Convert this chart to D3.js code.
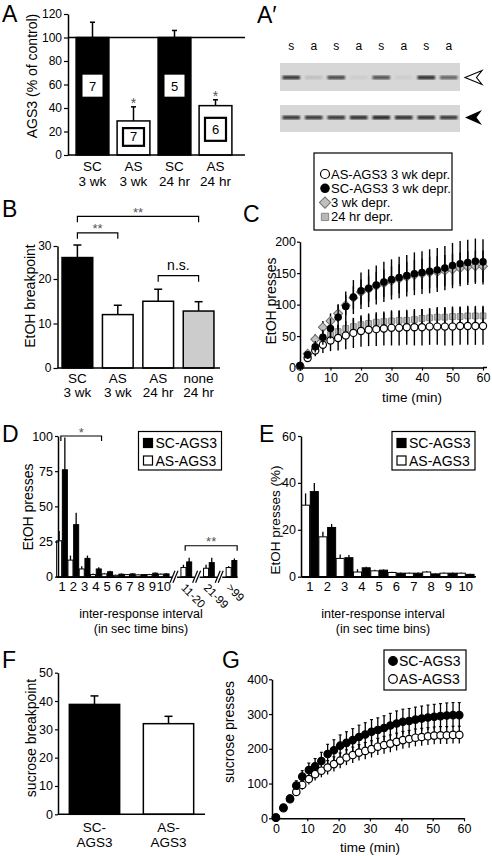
<!DOCTYPE html>
<html>
<head>
<meta charset="utf-8">
<script src="https://cdn.jsdelivr.net/npm/d3@7/dist/d3.min.js"></script>
<style>
html,body{margin:0;padding:0;background:#fff;}
svg{display:block;}
text{font-family:"Liberation Sans",Arial,Helvetica,sans-serif;fill:#000;}
</style>
</head>
<body>
<svg id="fig" width="492" height="856"></svg>
<script>
// ================= DATA =================
// Panel A
const aCategories = [["SC","3 wk"],["AS","3 wk"],["SC","24 hr"],["AS","24 hr"]];
const aValues = [100, 29, 100, 42];
const aErrors = [13, 12, 6, 5];
const aN = ["7","7","5","6"];
const aSignif = ["","*","","*"];
const aTicks = [0,20,40,60,80,100,120];
// Panel A'
const blotLanes = ["s","a","s","a","s","a","s","a"];
const blotTopBand = [0.85,0.12,0.75,0.05,0.7,0.05,0.9,0.6];
const blotBottomBand = [0.85,0.85,0.85,0.9,0.95,0.9,0.9,0.85];
// Panel B
const bCategories = [["SC","3 wk"],["AS","3 wk"],["AS","24 hr"],["none","24 hr"]];
const bValues = [26.5, 12, 15, 12.8];
const bErrors = [3.8, 2.1, 2.7, 2.1];
const bTicks = [0,10,20,30];
const bBrackets = [{from:0,to:1,level:34,label:"**"},{from:0,to:3,level:39,label:"**"},{from:2,to:3,level:21,label:"n.s."}];
// Panel C
const cTime = [0,2.5,5,7.5,10,12.5,15,17.5,20,22.5,25,27.5,30,32.5,35,37.5,40,42.5,45,47.5,50,52.5,55,57.5,60];
const cAS3wk = [2,15,27,36,43,47,51,55,58,60,61,62,63,63,64,64,64,65,65,65,65,66,66,66,66];
const cAS3wkErr = [1,5,9,13,17,20,22,24,25,26,27,27,28,28,28,29,29,29,29,30,30,30,30,30,30];
const cSC3wk = [3,20,33,48,62,80,97,112,122,126,131,136,140,143,146,149,151,153,155,158,162,165,167,169,168];
const cSC3wkErr = [2,6,9,12,16,20,24,27,29,30,31,32,32,33,33,34,34,35,35,35,36,36,36,36,36];
const cDepr3wk = [2,22,45,64,74,86,99,111,120,125,130,134,138,141,144,147,149,151,152,154,156,158,160,161,161];
const cDepr3wkErr = [1,5,8,10,12,14,16,18,20,21,22,22,23,23,24,24,24,25,25,25,25,25,25,25,25];
const cDepr24hr = [2,18,32,44,52,57,62,65,68,70,72,73,74,75,75,76,78,79,80,80,81,81,82,82,82];
const cDepr24hrErr = [1,4,6,8,10,11,12,13,13,14,14,14,15,15,15,15,15,15,16,16,16,16,16,16,16];
const cLegendLabels = ["AS-AGS3 3 wk depr.","SC-AGS3 3 wk depr.","3 wk depr.","24 hr depr."];
const cXTicks = [0,10,20,30,40,50,60];
const cYTicks = [0,50,100,150,200];
// Panel D
const dBins = ["1","2","3","4","5","6","7","8","9","10","11-20","21-99",">99"];
const dSC = [76,37,13,5.5,3.5,1.8,2,1.5,2.5,2,10.5,10,11.5];
const dSCErr = [23,8.5,2,1.2,0.8,0.5,0.5,0.5,0.5,0.5,3,3.5,1.5];
const dAS = [25.5,11.8,5.5,1.5,2,1,1.5,1.3,1.5,1.8,6.5,6,6.5];
const dASErr = [7,3.2,2,0.7,0.5,0.4,0.5,0.4,0.5,0.5,2,2.5,1];
const dTicks = [0,25,50,75,100];
const dBrackets = [{from:"1",to:"4",level:100,label:"*"},{from:"11-20",to:">99",level:22,label:"**"}];
// Panel E
const eBins = ["1","2","3","4","5","6","7","8","9","10"];
const eSC = [36.3,21,8.1,3.8,2.8,1.5,1.5,1.2,1.5,1];
const eSCErr = [3.7,1.5,1.2,0.4,0.3,0.3,0.3,0.3,0.3,0.3];
const eAS = [30.5,17,7.8,2,2.5,1.8,1.5,2,1.5,1.5];
const eASErr = [5,2.2,1.7,1.2,0.5,0.3,0.3,0.3,0.3,0.3];
const eTicks = [0,20,40,60];
const groupLegend = ["SC-AGS3","AS-AGS3"];
// Panel F
const fCategories = [["SC-","AGS3"],["AS-","AGS3"]];
const fValues = [38.8, 32];
const fErrors = [3, 2.6];
const fTicks = [0,10,20,30,40,50];
// Panel G
const gTime = [0,2.4,4.5,6.5,8.4,10.5,12.5,14.5,16.5,18.5,20.5,22.5,24.5,26.5,28.5,30.5,32.5,34.5,36.5,38.5,40.5,42.5,44.5,46.5,48.5,50.5,52.5,54.5,56.5,58.5];
const gSC = [2,31,57,94,120,139,150,165,185,196,209,217,225,234,241,249,254,260,267,273,278,280,284,287,290,292,294,296,297,297];
const gSCErr = [2,6,10,14,17,20,22,25,28,30,31,32,33,34,34,35,35,35,35,36,36,36,36,36,36,36,36,36,36,36];
const gAS = [2,29,55,76,96,113,127,137,146,156,166,175,182,189,194,199,206,211,215,220,225,228,232,234,236,238,239,239,240,240];
const gASErr = [2,6,9,12,14,16,18,19,20,21,22,22,23,23,24,24,24,25,25,25,25,25,25,25,25,25,25,25,25,25];
const gXTicks = [0,10,20,30,40,50,60];
const gYTicks = [0,100,200,300,400];

// ================= DRAW =================
const FONT = '"Liberation Sans", Arial, Helvetica, sans-serif';
const svg = d3.select("#fig");

function styleAxis(g, fs){
  g.attr("font-family", FONT).attr("font-size", fs || 12);
  g.select(".domain").attr("stroke","#000").attr("stroke-width",1.5);
  g.selectAll(".tick line").attr("stroke","#000").attr("stroke-width",1.2);
  g.selectAll(".tick text").attr("fill","#000");
  return g;
}
function panelLetter(t, x, y){
  svg.append("text").attr("x",x).attr("y",y).attr("font-size",23).text(t);
}
function yTitle(t, x, y, fs){
  svg.append("text").attr("transform",`translate(${x},${y}) rotate(-90)`)
    .attr("text-anchor","middle").attr("font-size",fs||14).text(t);
}
function vline(g, x, y1, y2, w){
  g.append("line").attr("x1",x).attr("x2",x).attr("y1",y1).attr("y2",y2)
    .attr("stroke","#000").attr("stroke-width",w||1.5);
}
function hline(g, x1, x2, y, w, col){
  g.append("line").attr("x1",x1).attr("x2",x2).attr("y1",y).attr("y2",y)
    .attr("stroke",col||"#000").attr("stroke-width",w||1.5);
}
function errBar(g, x, yTop, yBase, cap, w){
  vline(g, x, yBase, yTop, w||1.5);
  if (cap) hline(g, x-cap/2, x+cap/2, yTop, w||1.5);
}

// ---------- Panel A ----------
{
  const g = svg.append("g");
  const y = d3.scaleLinear().domain([0,120]).range([155,14]);
  const x = d3.scaleBand().domain(d3.range(aValues.length)).range([72,236]).paddingInner(0.2).paddingOuter(0.1);
  const fills = ["#000","#fff","#000","#fff"];
  aValues.forEach((v,i)=>{
    const bx = x(i), bw = x.bandwidth();
    errBar(g, bx+bw/2, y(v+aErrors[i]), y(v), 5);
    g.append("rect").attr("x",bx).attr("y",y(v)).attr("width",bw).attr("height",y(0)-y(v))
      .attr("fill",fills[i]).attr("stroke","#000").attr("stroke-width",1.5);
    if (fills[i]==="#000"){
      g.append("rect").attr("x",bx+bw/2-10).attr("y",y(59)-11).attr("width",20).attr("height",22).attr("fill","#fff");
      g.append("text").attr("x",bx+bw/2).attr("y",y(59)+5).attr("text-anchor","middle").attr("font-size",13).text(aN[i]);
    } else {
      const h = Math.min(23, (y(0)-y(v))*0.52);
      const cy = (y(0)+y(v))/2 - 1;
      g.append("rect").attr("x",bx+bw/2-10.5).attr("y",cy-h/2).attr("width",21).attr("height",h)
        .attr("fill","#fff").attr("stroke","#000").attr("stroke-width",2.2);
      g.append("text").attr("x",bx+bw/2).attr("y",cy+4.5).attr("text-anchor","middle").attr("font-size",13).text(aN[i]);
    }
    if (aSignif[i]) g.append("text").attr("x",bx+bw/2).attr("y",y(v+aErrors[i])+1).attr("text-anchor","middle")
      .attr("font-size",14).style("fill","#555").text(aSignif[i]);
    g.append("text").attr("x",bx+bw/2).attr("y",171).attr("text-anchor","middle").attr("font-size",13.5).text(aCategories[i][0]);
    g.append("text").attr("x",bx+bw/2).attr("y",185.5).attr("text-anchor","middle").attr("font-size",13.5).text(aCategories[i][1]);
  });
  hline(g, 68, 245, y(100), 1.3);
  hline(g, 68, 245, y(0), 1.5);
  styleAxis(g.append("g").attr("transform","translate(68,0)")
    .call(d3.axisLeft(y).tickValues(aTicks).tickSize(4).tickSizeOuter(0).tickPadding(2)));
  yTitle("AGS3 (% of control)", 37, 76);
  panelLetter("A", 2, 22);
}

// ---------- Panel A' ----------
{
  const g = svg.append("g");
  const defs = svg.append("defs");
  defs.append("filter").attr("id","blur").append("feGaussianBlur").attr("stdDeviation",0.9);
  const x = d3.scaleBand().domain(d3.range(blotLanes.length)).range([280,460]);
  blotLanes.forEach((l,i)=>{
    g.append("text").attr("x",x(i)+x.bandwidth()/2).attr("y",49.5).attr("text-anchor","middle").attr("font-size",12).text(l);
  });
  const blots = [{y0:63,h:28,yb:77.5,bands:blotTopBand},{y0:105,h:27,yb:117.5,bands:blotBottomBand}];
  blots.forEach(b=>{
    g.append("rect").attr("x",280).attr("y",b.y0).attr("width",180).attr("height",b.h).attr("fill","#d7d7d7");
    b.bands.forEach((v,i)=>{
      g.append("rect").attr("x",x(i)+2.5).attr("y",b.yb-1.8).attr("width",x.bandwidth()-5).attr("height",3.6)
        .attr("fill","#111").attr("opacity",v).attr("filter","url(#blur)");
    });
  });
  g.append("path").attr("d","M465,77.5 L482,70.5 L476.5,77.5 L482,84.5 Z").attr("fill","#fff").attr("stroke","#000").attr("stroke-width",1.1);
  g.append("path").attr("d","M465,117.5 L482,110 L476.5,117.5 L482,125 Z").attr("fill","#000");
  panelLetter("A\u2032", 257, 23);
}

// ---------- Panel B ----------
{
  const g = svg.append("g");
  const y = d3.scaleLinear().domain([0,10,20,30]).range([368,323.5,279,246]);
  const x = d3.scaleBand().domain(d3.range(bValues.length)).range([58,218]).paddingInner(0.24).paddingOuter(0.1);
  const fills = ["#000","#fff","#fff","#cccccc"];
  bValues.forEach((v,i)=>{
    const bx = x(i), bw = x.bandwidth();
    errBar(g, bx+bw/2, y(v+bErrors[i]), y(v), 8);
    g.append("rect").attr("x",bx).attr("y",y(v)).attr("width",bw).attr("height",y(0)-y(v))
      .attr("fill",fills[i]).attr("stroke","#000").attr("stroke-width",1.5);
    g.append("text").attr("x",bx+bw/2).attr("y",382.5).attr("text-anchor","middle").attr("font-size",13.5).text(bCategories[i][0]);
    g.append("text").attr("x",bx+bw/2).attr("y",397).attr("text-anchor","middle").attr("font-size",13.5).text(bCategories[i][1]);
  });
  bBrackets.forEach(br=>{
    const x1 = x(br.from)+x.bandwidth()/2, x2 = x(br.to)+x.bandwidth()/2, yy = y(br.level);
    g.append("path").attr("d",`M${x1},${yy+6}V${yy}H${x2}V${yy+6}`).attr("fill","none").attr("stroke","#000").attr("stroke-width",1.2);
    const isStar = br.label.indexOf("*")>=0;
    g.append("text").attr("x",(x1+x2)/2).attr("y", isStar ? yy+0.5 : yy-6).attr("text-anchor","middle")
      .attr("font-size",isStar?13:14).style("fill",isStar?"#555":"#000").text(br.label);
  });
  hline(g, 57.5, 220, y(0), 1.5);
  styleAxis(g.append("g").attr("transform","translate(57.5,0)")
    .call(d3.axisLeft(y).tickValues(bTicks).tickSize(4).tickSizeOuter(0).tickPadding(2)));
  yTitle("EtOH breakpoint", 35, 296);
  panelLetter("B", 2, 217);
}

// ---------- Panel C ----------
{
  const g = svg.append("g");
  const x = d3.scaleLinear().domain([0,60]).range([300,483]);
  const y = d3.scaleLinear().domain([0,200]).range([367.5,241.7]);
  const series = [
    {vals:cDepr24hr, err:cDepr24hrErr, type:"square"},
    {vals:cAS3wk, err:cAS3wkErr, type:"open"},
    {vals:cDepr3wk, err:cDepr3wkErr, type:"diamond"},
    {vals:cSC3wk, err:cSC3wkErr, type:"filled"}
  ];
  function marker(sel, type, cx, cy, s){
    s = s || 1;
    if (type==="open") sel.append("circle").attr("cx",cx).attr("cy",cy).attr("r",3.6*s).attr("fill","#fff").attr("stroke","#000").attr("stroke-width",1.2);
    else if (type==="filled") sel.append("circle").attr("cx",cx).attr("cy",cy).attr("r",3.8*s).attr("fill","#000");
    else if (type==="square") sel.append("path").attr("d",d3.symbol(d3.symbolSquare, 34*s*s)()).attr("transform",`translate(${cx},${cy})`)
      .attr("fill","#b8b8b8").attr("stroke","#8a8a8a").attr("stroke-width",1);
    else sel.append("path").attr("d",d3.symbol(d3.symbolSquare, 40*s*s)()).attr("transform",`translate(${cx},${cy}) rotate(45)`)
      .attr("fill","#c0c0c0").attr("stroke","#6f6f6f").attr("stroke-width",1);
  }
  series.forEach(s=>{
    s.vals.forEach((v,i)=>{
      const cx = x(cTime[i]);
      vline(g, cx, y(v+s.err[i]), y(Math.max(0,v-s.err[i])), 1.4);
    });
    s.vals.forEach((v,i)=> marker(g, s.type, x(cTime[i]), y(v)));
  });
  styleAxis(g.append("g").attr("transform",`translate(0,${y(0)})`)
    .call(d3.axisBottom(x).tickValues(cXTicks).tickSize(3).tickSizeOuter(0).tickPadding(3)), 12.5);
  hline(g, 483, 487, y(0), 1.5);
  styleAxis(g.append("g").attr("transform",`translate(300,0)`)
    .call(d3.axisLeft(y).tickValues(cYTicks).tickSize(3).tickSizeOuter(0).tickPadding(1)), 12.5);
  g.append("text").attr("x",412).attr("y",402).attr("text-anchor","middle").attr("font-size",13.5).text("time (min)");
  yTitle("EtOH presses", 276, 301);
  // legend
  g.append("rect").attr("x",314).attr("y",153).attr("width",138).attr("height",77).attr("fill","#fff").attr("stroke","#000").attr("stroke-width",1.2);
  const ltypes = ["open","filled","diamond","square"];
  cLegendLabels.forEach((t,i)=>{
    const cy = 174 + i*14.3;
    marker(g, ltypes[i], 325, cy, 1.25);
    g.append("text").attr("x",331).attr("y",cy+4.5).attr("font-size",13).text(t);
  });
  panelLetter("C", 243, 222);
}

// ---------- Legend helper (D, E) ----------
function groupLegendBox(g, x0, y0, w, h){
  g.append("rect").attr("x",x0).attr("y",y0).attr("width",w).attr("height",h).attr("fill","#fff").attr("stroke","#000").attr("stroke-width",1.2);
  groupLegend.forEach((t,i)=>{
    const cy = y0 + 11.5 + i*17.5;
    g.append("rect").attr("x",x0+5).attr("y",cy-4.5).attr("width",9).attr("height",9)
      .attr("fill", i===0 ? "#000" : "#fff").attr("stroke","#000").attr("stroke-width",1.2);
    g.append("text").attr("x",x0+17).attr("y",cy+5).attr("font-size",14).text(t);
  });
}

// ---------- Panel D ----------
{
  const g = svg.append("g");
  const slots = [];
  dBins.forEach((b,i)=>{ if (i>=10) slots.push("gap"+i); slots.push(b); });
  const x = d3.scaleBand().domain(slots).range([56.35,237.15]);
  const sub = d3.scaleBand().domain(["AS","SC"]).range([0,x.bandwidth()]).paddingInner(0.12).paddingOuter(0.05);
  const y = d3.scaleLinear().domain([0,100]).range([576.7,436]);
  dBins.forEach((b,i)=>{
    [["AS",dAS[i],dASErr[i],"#fff"],["SC",dSC[i],dSCErr[i],"#000"]].forEach(([k,v,e,f])=>{
      const bx = x(b)+sub(k), bw = sub.bandwidth();
      errBar(g, bx+bw/2, y(v+e), y(v), 0, 1.3);
      g.append("rect").attr("x",bx).attr("y",y(v)).attr("width",bw).attr("height",y(0)-y(v))
        .attr("fill",f).attr("stroke","#000").attr("stroke-width",1);
    });
  });
  const ax = styleAxis(g.append("g").attr("transform",`translate(0,${y(0)})`)
    .call(d3.axisBottom(x).tickValues(dBins).tickSize(0).tickSizeOuter(0).tickPadding(5)), 13);
  ax.selectAll(".tick text").filter(d=>dBins.indexOf(d)>=10)
    .attr("y",0).attr("dy","0.35em").attr("text-anchor","start").attr("transform","translate(-3,9) rotate(45)").attr("font-size",11.5);
  // axis breaks
  slots.filter(s=>s.startsWith("gap")).forEach(s=>{
    const cx = x(s)+x.bandwidth()/2, y0 = y(0);
    g.append("rect").attr("x",cx-3).attr("y",y0-2).attr("width",5).attr("height",4).attr("fill","#fff");
    g.append("line").attr("x1",cx-5).attr("y1",y0+6).attr("x2",cx).attr("y2",y0-6).attr("stroke","#000").attr("stroke-width",1.2);
    g.append("line").attr("x1",cx-2).attr("y1",y0+6).attr("x2",cx+3).attr("y2",y0-6).attr("stroke","#000").attr("stroke-width",1.2);
  });
  styleAxis(g.append("g").attr("transform","translate(58,0)")
    .call(d3.axisLeft(y).tickValues(dTicks).tickSize(3).tickSizeOuter(0).tickPadding(2)), 12.5);
  dBrackets.forEach(br=>{
    const x1 = x(br.from)+x.bandwidth()*0.4, x2 = x(br.to)+x.bandwidth(), yy = y(br.level);
    g.append("path").attr("d",`M${x1},${yy+5}V${yy}H${x2}V${yy+5}`).attr("fill","none").attr("stroke","#000").attr("stroke-width",1.2);
    g.append("text").attr("x",(x1+x2)/2).attr("y",yy+0.5).attr("text-anchor","middle").attr("font-size",13).style("fill","#555").text(br.label);
  });
  groupLegendBox(g, 138.5, 431.5, 83, 38.5);
  g.append("text").attr("x",141).attr("y",618).attr("text-anchor","middle").attr("font-size",12.5).text("inter-response interval");
  g.append("text").attr("x",141).attr("y",633).attr("text-anchor","middle").attr("font-size",12.5).text("(in sec time bins)");
  yTitle("EtOH presses", 33, 507);
  panelLetter("D", 2, 442);
}

// ---------- Panel E ----------
{
  const g = svg.append("g");
  const x = d3.scaleBand().domain(eBins).range([301.3,474.3]);
  const sub = d3.scaleBand().domain(["AS","SC"]).range([0,x.bandwidth()]).paddingInner(0.08).paddingOuter(0.03);
  const y = d3.scaleLinear().domain([0,60]).range([576.7,436]);
  eBins.forEach((b,i)=>{
    [["AS",eAS[i],eASErr[i],"#fff"],["SC",eSC[i],eSCErr[i],"#000"]].forEach(([k,v,e,f])=>{
      const bx = x(b)+sub(k), bw = sub.bandwidth();
      errBar(g, bx+bw/2, y(v+e), y(v), 0, 1.3);
      g.append("rect").attr("x",bx).attr("y",y(v)).attr("width",bw).attr("height",y(0)-y(v))
        .attr("fill",f).attr("stroke","#000").attr("stroke-width",1);
    });
  });
  hline(g, 301, 476, y(0), 1.5);
  styleAxis(g.append("g").attr("transform",`translate(0,${y(0)})`)
    .call(d3.axisBottom(x).tickSize(0).tickSizeOuter(0).tickPadding(5)), 13);
  styleAxis(g.append("g").attr("transform","translate(301,0)")
    .call(d3.axisLeft(y).tickValues(eTicks).tickSize(3).tickSizeOuter(0).tickPadding(2)), 12.5);
  groupLegendBox(g, 392, 431.5, 83, 38.5);
  g.append("text").attr("x",383).attr("y",618).attr("text-anchor","middle").attr("font-size",12.5).text("inter-response interval");
  g.append("text").attr("x",383).attr("y",633).attr("text-anchor","middle").attr("font-size",12.5).text("(in sec time bins)");
  yTitle("EtOH presses (%)", 280, 520, 13.5);
  panelLetter("E", 259, 442);
}

// ---------- Panel F ----------
{
  const g = svg.append("g");
  const y = d3.scaleLinear().domain([0,50]).range([814.3,672.7]);
  const x = d3.scaleBand().domain(d3.range(fValues.length)).range([58,205]).paddingInner(0.32).paddingOuter(0.153);
  const fills = ["#000","#fff"];
  fValues.forEach((v,i)=>{
    const bx = x(i), bw = x.bandwidth();
    errBar(g, bx+bw/2, y(v+fErrors[i]), y(v), 8);
    g.append("rect").attr("x",bx).attr("y",y(v)).attr("width",bw).attr("height",y(0)-y(v))
      .attr("fill",fills[i]).attr("stroke","#000").attr("stroke-width",1.5);
    g.append("text").attr("x",bx+bw/2).attr("y",832).attr("text-anchor","middle").attr("font-size",13.5).text(fCategories[i][0]);
    g.append("text").attr("x",bx+bw/2).attr("y",846.5).attr("text-anchor","middle").attr("font-size",13.5).text(fCategories[i][1]);
  });
  hline(g, 58, 205, y(0), 1.5);
  styleAxis(g.append("g").attr("transform","translate(58,0)")
    .call(d3.axisLeft(y).tickValues(fTicks).tickSize(3).tickSizeOuter(0).tickPadding(2)), 12.5);
  yTitle("sucrose breakpoint", 36, 738);
  panelLetter("F", 2, 668);
}

// ---------- Panel G ----------
{
  const g = svg.append("g");
  const x = d3.scaleLinear().domain([-1.25,60]).range([272,464]);
  const y = d3.scaleLinear().domain([0,400]).range([818.3,679.3]);
  const series = [{vals:gAS, err:gASErr, open:true},{vals:gSC, err:gSCErr, open:false}];
  series.forEach(s=>{
    s.vals.forEach((v,i)=>{
      const cx = x(gTime[i]);
      vline(g, cx, y(v+s.err[i]), y(Math.max(0,v-s.err[i])), 1.3);
      hline(g, cx-1.5, cx+1.5, y(v+s.err[i]), 1.1);
    });
  });
  series.forEach(s=>{
    s.vals.forEach((v,i)=>{
      g.append("circle").attr("cx",x(gTime[i])).attr("cy",y(v)).attr("r",3.7)
        .attr("fill", s.open ? "#fff" : "#000").attr("stroke","#000").attr("stroke-width",1.2);
    });
  });
  styleAxis(g.append("g").attr("transform",`translate(0,${y(0)})`)
    .call(d3.axisBottom(x).tickValues(gXTicks).tickSize(3).tickSizeOuter(0).tickPadding(3)), 12.5);
  styleAxis(g.append("g").attr("transform","translate(272,0)")
    .call(d3.axisLeft(y).tickValues(gYTicks).tickSize(3).tickSizeOuter(0).tickPadding(1)), 12.5);
  g.append("text").attr("x",370).attr("y",852).attr("text-anchor","middle").attr("font-size",13.5).text("time (min)");
  yTitle("sucrose presses", 234, 732);
  g.append("rect").attr("x",384).attr("y",650).attr("width",82).attr("height",40).attr("fill","#fff").attr("stroke","#000").attr("stroke-width",1.2);
  groupLegend.forEach((t,i)=>{
    const cy = 661 + i*18;
    g.append("circle").attr("cx",393).attr("cy",cy).attr("r",4.3).attr("fill", i===0?"#000":"#fff").attr("stroke","#000").attr("stroke-width",1.2);
    g.append("text").attr("x",399).attr("y",cy+5).attr("font-size",14).text(t);
  });
  panelLetter("G", 222, 668);
}
</script>
</body>
</html>
